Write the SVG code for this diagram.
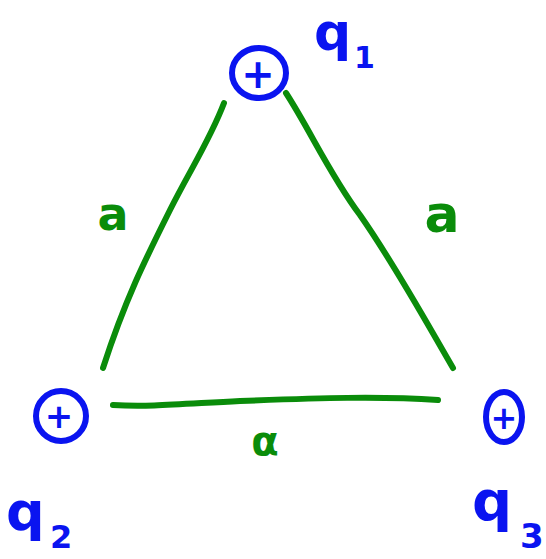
<svg xmlns="http://www.w3.org/2000/svg" width="546" height="559" viewBox="0 0 546 559">
<style>
.edge{fill:none;stroke:#0a8c0a;stroke-width:6;stroke-linecap:round;stroke-linejoin:round}
.ring{fill:none;stroke:#0a14f0;stroke-width:6}
.plus{fill:#0a14f0;font-family:"DejaVu Sans",sans-serif;font-weight:bold;text-anchor:middle}
.q{fill:#0a14f0;font-family:"DejaVu Sans",sans-serif;font-weight:bold}
.lbl{fill:#0a8c0a;font-family:"DejaVu Sans",sans-serif;font-weight:bold;text-anchor:middle}
</style>
<rect width="546" height="559" fill="#fff"/>
<g id="connectors">
<path class="edge" d="M224,103 C210,140 190,170 170,210 C145,260 125,300 103,368"/>
<path class="edge" d="M286,93 C310,130 330,175 360,215 C395,265 425,320 453,368"/>
<path class="edge" d="M113,405 C150,407 180,404 240,401 C320,398 380,396 438,400"/>
<text class="lbl" x="113" y="230" font-size="46">a</text>
<text class="lbl" x="442" y="232" font-size="52">a</text>
<text class="lbl" x="265" y="455" font-size="40">α</text>
</g>
<g id="q1">
<ellipse class="ring" cx="259" cy="73" rx="27" ry="25"/>
<text class="plus" x="258" y="88" font-size="40">+</text>
<text class="q" x="314" y="50" font-size="52">q</text>
<text class="q" x="354" y="68" font-size="30">1</text>
</g>
<g id="q2">
<ellipse class="ring" cx="61" cy="416" rx="25" ry="25"/>
<text class="plus" x="59" y="428" font-size="34">+</text>
<text class="q" x="6" y="530" font-size="54">q</text>
<text class="q" x="50" y="548" font-size="32">2</text>
</g>
<g id="q3">
<ellipse class="ring" cx="504" cy="417" rx="18" ry="25"/>
<text class="plus" x="504" y="429" font-size="32">+</text>
<text class="q" x="472" y="520" font-size="56">q</text>
<text class="q" x="520" y="548" font-size="34">3</text>
</g>
</svg>
